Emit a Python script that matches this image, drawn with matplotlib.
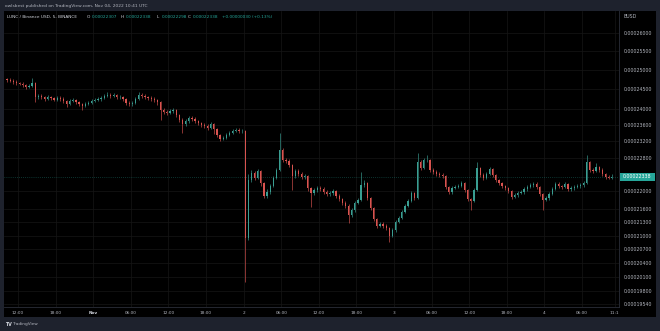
import matplotlib
matplotlib.use('Agg')
import matplotlib.pyplot as plt
from matplotlib.patches import Rectangle
from matplotlib.ticker import FixedLocator, NullLocator
import numpy as np

# ---------------- data (prices in units of 1e-8 BUSD) ----------------
SCALE = 1e-8
first_open = 24770
closes = [
    24744, 24718, 24692, 24666, 24640, 24614, 24562, 24588, 24666, 24305,
    24330, 24305, 24254, 24305, 24279, 24228, 24279, 24254, 24203, 24127,
    24203, 24228, 24177, 24127, 24076, 24127, 24152, 24203, 24228, 24254,
    24279, 24330, 24356, 24330, 24356, 24305, 24305, 24254, 24152, 24127,
    24152, 24254, 24356, 24330, 24305, 24279, 24254, 24228, 24177, 23974,
    23924, 23898, 23949, 23974, 23848, 23723, 23623, 23698, 23773, 23748,
    23698, 23648, 23598, 23573, 23524, 23623, 23499, 23351, 23253, 23277,
    23351, 23400, 23449, 23474, 23449, 23449, 20949, 22269, 22434, 22316,
    22481, 22199, 21897, 21989, 22129, 22316, 22505, 22984, 22743, 22719,
    22624, 22363, 22481, 22410, 22340, 22363, 22082, 21966, 22036, 22082,
    22059, 21989, 21943, 21966, 22012, 21897, 21828, 21736, 21668, 21463,
    21576, 21736, 21805, 22152, 22199, 21851, 21622, 21373, 21216, 21260,
    21216, 21171, 20993, 21126, 21305, 21395, 21531, 21668, 21782, 21966,
    21851, 22695, 22552, 22743, 22743, 22505, 22458, 22410, 22387, 22363,
    22105, 21989, 22082, 22105, 22129, 22199, 22036, 21828, 21782, 22036,
    22552, 22387, 22316, 22410, 22528, 22387, 22269, 22199, 22129, 22082,
    22012, 21874, 21920, 21966, 21989, 22059, 22105, 22152, 22176, 22105,
    21943, 21805, 21851, 21943, 22059, 22176, 22129, 22105, 22176, 22059,
    22082, 22105, 22129, 22152, 22199, 22695, 22505, 22481, 22576, 22505,
    22410, 22340, 22316, 22338,
]
highs = [
    24800, 24790, 24760, 24730, 24700, 24690, 24650, 24640, 24800, 24690,
    24380, 24370, 24340, 24350, 24340, 24310, 24330, 24320, 24290, 24230,
    24250, 24280, 24260, 24210, 24160, 24180, 24200, 24250, 24280, 24300,
    24330, 24390, 24420, 24400, 24410, 24390, 24360, 24340, 24280, 24190,
    24210, 24300, 24420, 24400, 24370, 24340, 24320, 24290, 24260, 24200,
    24010, 23960, 24000, 24030, 24000, 23880, 23760, 23750, 23830, 23810,
    23790, 23730, 23680, 23640, 23610, 23680, 23650, 23530, 23380, 23330,
    23400, 23450, 23500, 23520, 23510, 23500, 23480, 22400, 22500, 22470,
    22530, 22510, 22220, 22050, 22180, 22360, 22560, 23400, 23020, 22780,
    22760, 22650, 22530, 22520, 22450, 22410, 22390, 22110, 22080, 22130,
    22120, 22100, 22030, 22010, 22060, 22040, 21930, 21860, 21770, 21700,
    21630, 21780, 21860, 22460, 22260, 22220, 21870, 21650, 21400, 21310,
    21300, 21250, 21200, 21170, 21350, 21440, 21580, 21710, 21830, 22010,
    21990, 22910, 22740, 22790, 22860, 22770, 22540, 22500, 22450, 22420,
    22390, 22130, 22130, 22150, 22170, 22240, 22230, 22060, 21850, 22080,
    22700, 22580, 22420, 22450, 22580, 22560, 22410, 22300, 22230, 22160,
    22110, 22040, 21970, 22010, 22030, 22100, 22150, 22200, 22220, 22210,
    22130, 21970, 21900, 21990, 22100, 22220, 22210, 22160, 22220, 22200,
    22130, 22150, 22170, 22200, 22240, 22870, 22720, 22550, 22680, 22600,
    22540, 22440, 22380, 22398,
]
lows = [
    24700, 24680, 24650, 24620, 24600, 24570, 24520, 24530, 24570, 24180,
    24260, 24250, 24210, 24220, 24230, 24190, 24200, 24210, 24160, 24050,
    24100, 24170, 24130, 24080, 23970, 24040, 24090, 24120, 24170, 24190,
    24210, 24240, 24290, 24280, 24290, 24250, 24240, 24200, 24090, 24060,
    24080, 24120, 24220, 24270, 24250, 24220, 24200, 24170, 24110, 23720,
    23870, 23840, 23860, 23900, 23790, 23660, 23400, 23580, 23650, 23690,
    23640, 23590, 23540, 23510, 23460, 23490, 23375, 23290, 23210, 23220,
    23240, 23320, 23370, 23410, 23400, 23400, 20000, 20900, 22220, 22260,
    22280, 22130, 21850, 21860, 21950, 22100, 22290, 22480, 22700, 22670,
    22580, 22040, 22320, 22360, 22290, 22300, 22020, 21640, 21920, 21990,
    22000, 21940, 21890, 21900, 21920, 21840, 21780, 21690, 21610, 21280,
    21420, 21540, 21700, 21780, 22100, 21800, 21570, 21320, 21170, 21180,
    21170, 21120, 20860, 20960, 21090, 21270, 21360, 21500, 21640, 21750,
    21800, 21830, 22500, 22520, 22690, 22460, 22410, 22360, 22340, 22320,
    22060, 21940, 21950, 22050, 22070, 22100, 21990, 21780, 21570, 21760,
    22010, 22340, 22270, 22280, 22380, 22340, 22220, 22150, 22080, 22030,
    21960, 21830, 21840, 21880, 21930, 21950, 22020, 22070, 22110, 22060,
    21890, 21570, 21770, 21810, 21910, 22030, 22080, 22060, 22070, 22010,
    22020, 22040, 22070, 22090, 22110, 22170, 22460, 22430, 22450, 22460,
    22370, 22300, 22280, 22290,
]
start_hour = 10.0      # hours after Oct 31 00:00 UTC
bar_hours = 0.5

time_tick_hours = [12, 18, 24, 30, 36, 42, 48, 54, 60, 66, 72, 78, 84, 90, 96, 102, 107.2]
time_tick_labels = ['12:00', '18:00', 'Nov', '06:00', '12:00', '18:00', '2', '06:00',
                    '12:00', '18:00', '3', '06:00', '12:00', '18:00', '4', '06:00', '11:1']
price_ticks = [26000, 25500, 25000, 24500, 24000, 23600, 23200, 22800, 22000,
               21600, 21300, 21000, 20700, 20400, 20100, 19800, 19540]
last_price = 22338

header_top = 'owlsbest published on TradingView.com, Nov 04, 2022 10:41 UTC'
symbol_text = 'LUNC / Binance USD, 5, BINANCE'
ohlc_labels = ['O', 'H', 'L', 'C']
ohlc_values = ['0.00022307', '0.00022338', '0.00022298', '0.00022338']
change_text = '+0.00000030 (+0.13%)'

# ---------------- style ----------------
W, H = 660, 331
OUTER = '#1e222d'
PANEL = '#000000'
GRID = '#161616'
TXT = '#b2b5be'
UP = '#3a9e92'
DOWN = '#d9534f'
PRICE_BOX = '#26a69a'
FS = 3.1

fig = plt.figure(figsize=(W / 100, H / 100), dpi=100, facecolor=OUTER)

def fx(px):
    return px / W

def fy(py):
    return 1 - py / H

# black panel behind chart + axes
fig.patches.append(Rectangle((fx(4), fy(317)), fx(656) - fx(4), fy(11) - fy(317),
                             transform=fig.transFigure, facecolor=PANEL,
                             edgecolor='none', zorder=-5))

ax = fig.add_axes([fx(4), fy(307), fx(619) - fx(4), fy(11) - fy(307)])
ax.set_facecolor(PANEL)
ax.set_yscale('log')
ax.set_xlim(9.77, 107.9)
ax.set_ylim(19478 * SCALE, 26607 * SCALE)

n = len(closes)
opens = np.array([first_open] + closes[:-1], dtype=float) * SCALE
c = np.array(closes, dtype=float) * SCALE
h = np.array(highs, dtype=float) * SCALE
l = np.array(lows, dtype=float) * SCALE
xs = start_hour + bar_hours * np.arange(n) + bar_hours / 2
cols = np.where(c >= opens, UP, DOWN)

ax.vlines(xs, l, h, colors=cols, linewidth=0.45, zorder=3)
ax.bar(xs, np.abs(c - opens), bottom=np.minimum(c, opens), width=0.2,
       color=cols, linewidth=0, zorder=3)

# grid
ax.yaxis.set_major_locator(FixedLocator([p * SCALE for p in price_ticks]))
ax.yaxis.set_minor_locator(NullLocator())
ax.set_yticklabels(['%.8f' % (p * SCALE) for p in price_ticks])
ax.xaxis.set_major_locator(FixedLocator(time_tick_hours))
ax.set_xticklabels(time_tick_labels)
ax.grid(True, color=GRID, linewidth=0.5, zorder=0)
ax.yaxis.tick_right()
ax.tick_params(axis='y', length=0, pad=3.2, labelsize=FS + 0.3, labelcolor=TXT)
ax.tick_params(axis='x', length=0, pad=3.0, labelsize=FS, labelcolor=TXT)
for lab in ax.get_xticklabels():
    if lab.get_text() == 'Nov':
        lab.set_fontweight('bold')
        lab.set_color('#d1d4dc')

for side in ['top', 'left']:
    ax.spines[side].set_visible(False)
for side in ['right', 'bottom']:
    ax.spines[side].set_color('#2a2e39')
    ax.spines[side].set_linewidth(0.6)

# current price line and label
lp = last_price * SCALE
ax.axhline(lp, color=PRICE_BOX, linestyle=(0, (1, 2)), linewidth=0.5, alpha=0.6, zorder=2)
fig.canvas.draw()
ypix = ax.transData.transform((50, lp))[1]
yf = ypix / H
fig.patches.append(Rectangle((fx(620), yf - 4.2 / H), fx(655) - fx(620), 8.4 / H,
                             transform=fig.transFigure, facecolor=PRICE_BOX,
                             edgecolor='none', zorder=5))
fig.text(fx(623), yf, '%.8f' % lp, color='#ffffff', fontsize=FS + 0.3,
         ha='left', va='center', zorder=6)

# header texts
fig.text(fx(5), fy(5.5), header_top, color=TXT, fontsize=FS + 0.1, ha='left', va='center')
fig.text(fx(7), fy(17), symbol_text, color='#d1d4dc', fontsize=FS, ha='left', va='center')
lab_x = [87, 121, 157, 188]
for lx, lb, vv in zip(lab_x, ohlc_labels, ohlc_values):
    fig.text(fx(lx), fy(17), lb, color='#d1d4dc', fontsize=FS, ha='left', va='center')
    fig.text(fx(lx + 4.5), fy(17), vv, color=PRICE_BOX, fontsize=FS, ha='left', va='center')
fig.text(fx(222), fy(17), change_text, color=PRICE_BOX, fontsize=FS, ha='left', va='center')
fig.text(fx(623), fy(16), 'BUSD', color=TXT, fontsize=FS + 0.3, ha='left', va='center')

# footer logo
fig.text(fx(5), fy(324), 'TV', color='#d1d4dc', fontsize=FS + 0.3, fontweight='bold',
         ha='left', va='center')
fig.text(fx(13), fy(324), 'TradingView', color=TXT, fontsize=FS, ha='left', va='center')

fig.savefig('out.png', dpi=100, facecolor=OUTER)
